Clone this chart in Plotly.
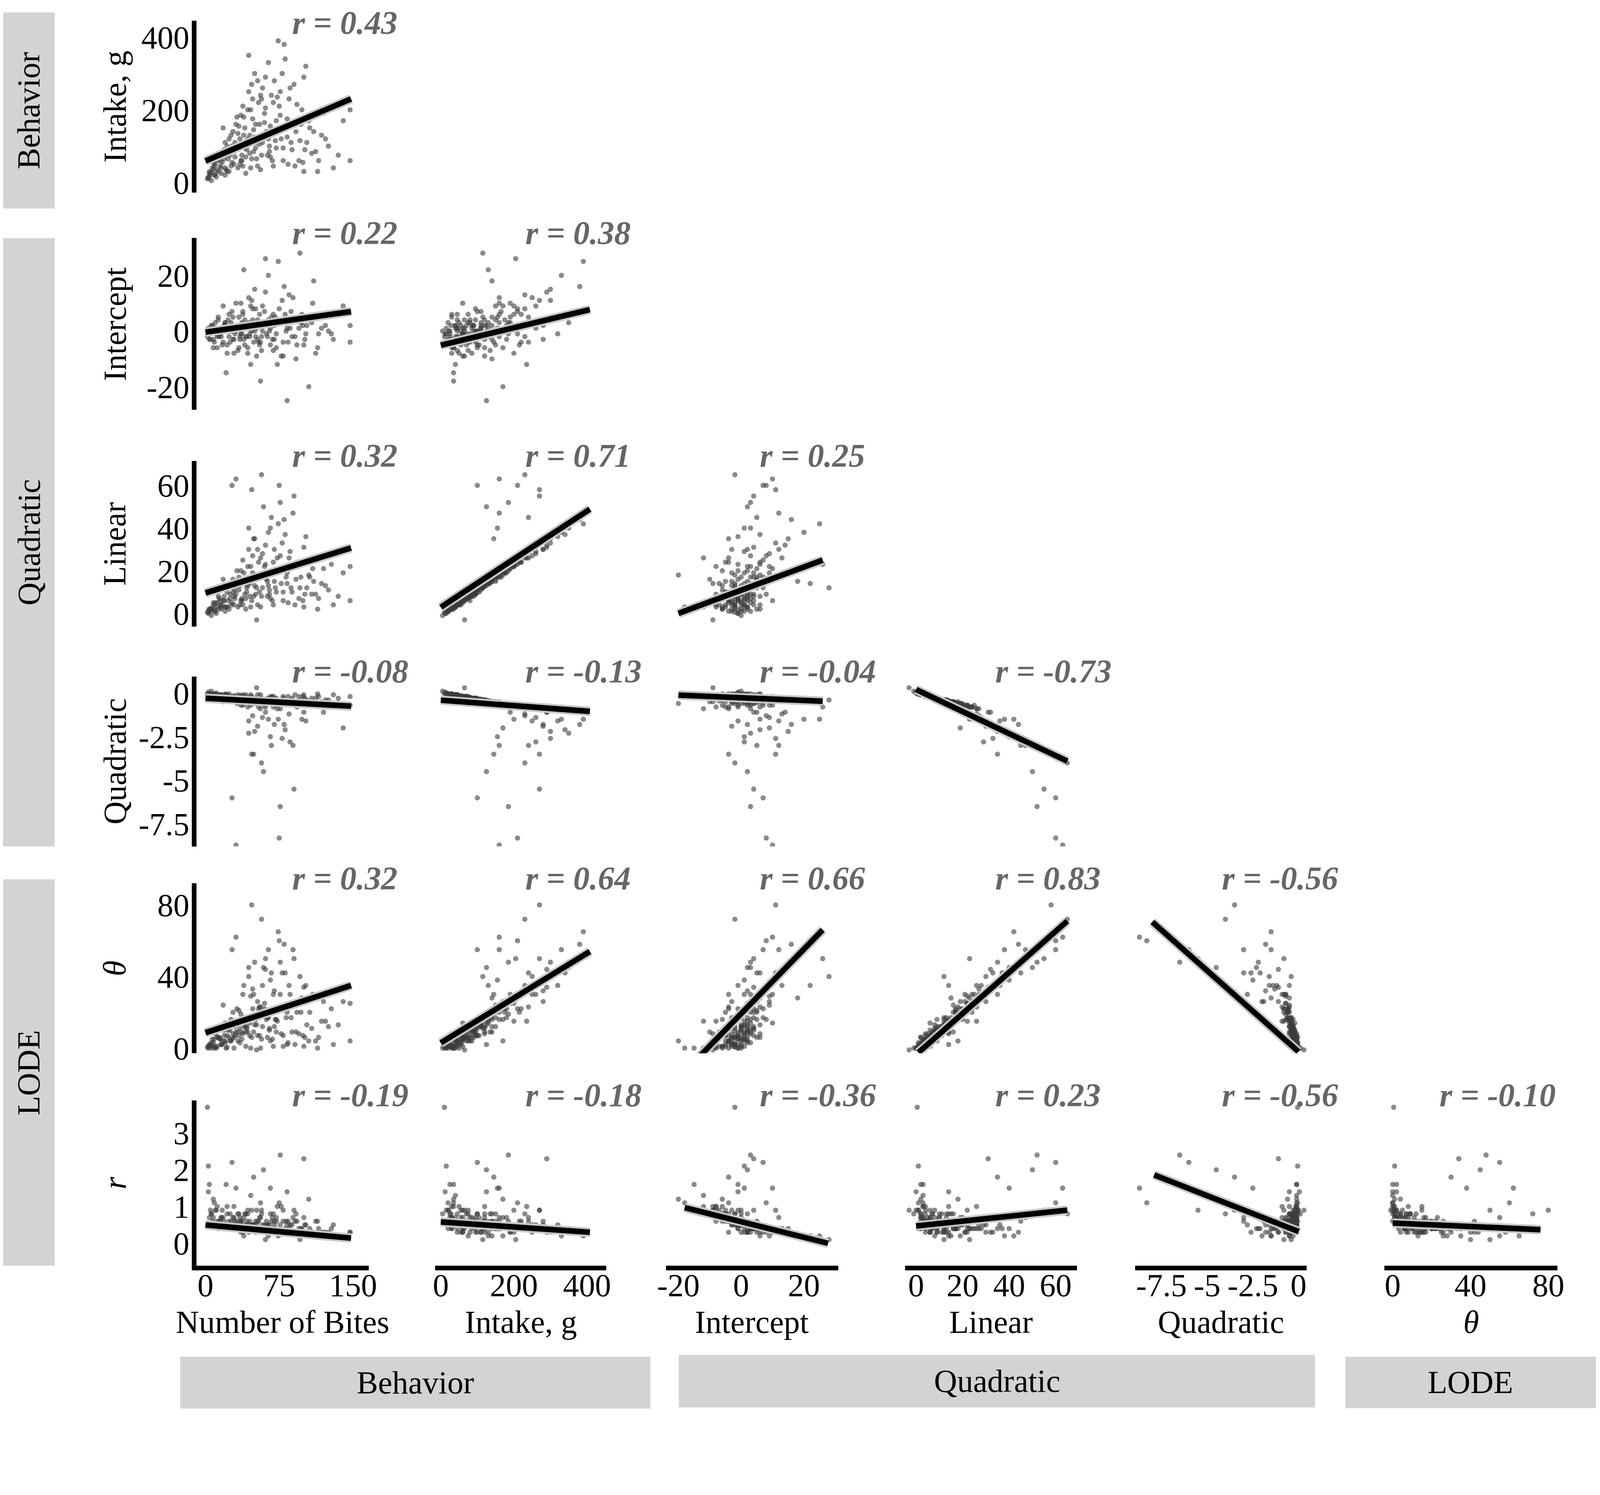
import plotly.graph_objects as go

# one row per subject
bites = [5, 8, 12, 15, 18, 20, 22, 25, 28, 30,
         32, 35, 36, 38, 40, 42, 44, 45, 46, 48,
         50, 52, 54, 55, 57, 58, 60, 62, 64, 65,
         67, 68, 70, 72, 74, 75, 77, 78, 80, 82,
         84, 85, 88, 90, 92, 95, 98, 100, 103, 105,
         108, 110, 115, 120, 125, 130, 140, 147, 147, 2,
         3, 4, 6, 7, 9, 10, 11, 13, 14, 16,
         17, 19, 21, 23, 24, 26, 27, 29, 31, 33,
         34, 37, 39, 41, 43, 47, 49, 51, 53, 56,
         59, 61, 63, 66, 69, 71, 73, 76, 79, 81,
         83, 86, 89, 93, 96, 99, 102, 106, 112, 118,
         135, 44, 36, 28, 18, 12, 57, 64, 47, 52,
         4, 9, 15, 20, 25, 30, 35, 40, 45, 50,
         55, 60, 65, 70, 20, 27, 33, 38, 42, 48,
         3, 6, 8, 10, 13, 16, 19, 22, 24, 26,
         29, 31, 34, 37, 39, 41, 43, 46, 49, 51,
         53, 56, 58, 61, 63, 66, 69, 72, 76, 79,
         83, 87, 91, 97, 101, 109, 114, 122, 128, 100]

intake = [20, 35, 60, 45, 80, 110, 30, 95, 140, 70,
          180, 120, 60, 210, 150, 90, 250, 130, 40, 175,
          300, 110, 220, 160, 75, 260, 190, 140, 330, 100,
          240, 60, 280, 170, 390, 210, 120, 300, 380, 150,
          50, 230, 90, 270, 140, 60, 200, 30, 110, 170,
          80, 140, 60, 190, 100, 40, 170, 200, 60, 10,
          15, 25, 5, 40, 20, 50, 15, 30, 70, 25,
          55, 90, 35, 65, 120, 45, 100, 85, 160, 40,
          100, 75, 130, 25, 200, 65, 145, 95, 280, 35,
          125, 205, 75, 155, 45, 115, 235, 185, 95, 340,
          125, 260, 160, 215, 115, 55, 320, 150, 85, 130,
          75, 350, 185, 95, 150, 35, 230, 120, 270, 65,
          30, 45, 60, 40, 75, 110, 50, 95, 80, 125,
          105, 165, 85, 140, 20, 55, 135, 45, 115, 230,
          12, 28, 55, 22, 80, 40, 65, 100, 30, 130,
          50, 90, 155, 60, 180, 70, 120, 200, 85, 160,
          45, 240, 110, 290, 140, 70, 220, 95, 250, 60,
          175, 110, 45, 160, 90, 190, 30, 120, 210, 290]

intercept = [-3, -6, -2, 1, -4, 3, -8, 0, 5, -1,
             2, -3, 10, 7, -5, 2, 12, -2, -12, 4,
             15, 1, -4, 6, -7, 9, 3, -1, 20, 0,
             5, -3, 2, -6, 25, 8, -9, 11, 16, 0,
             -4, 13, -2, 4, -10, 1, 6, -5, 2, -20,
             3, 18, -1, 5, 0, -3, 9, 2, -4, -2,
             1, -1, 0, 2, -4, 3, -1, 5, -2, 0,
             -5, 2, -15, 4, -2, 0, 7, -3, 10, 1,
             -6, 3, 22, -2, -8, 0, -4, 8, -3, -18,
             2, 26, -2, 1, -7, 5, -12, 3, -4, 6,
             -25, 1, 12, -5, 28, 2, -1, 4, -8, 1,
             6, 3, -1, -3, 9, -6, -2, 4, 11, -9,
             -3, 1, -1, 2, -4, 1, -2, 4, -1, 0,
             -5, 7, 2, -3, 3, 0, -7, 6, -2, 8,
             -1, 2, -3, 0, 4, -2, 1, -5, 6, 3,
             -8, 0, 5, -1, -3, 2, -6, 9, 1, -2,
             4, -4, 0, 14, 2, -5, 6, -1, 3, -9,
             1, 7, -2, 3, -3, 10, -6, 2, -1, 4]

linear = [1, 2, 5, 4, 6, 12, 3, 9, 16, 7,
          20, 13, 6, 25, 15, 10, 30, 14, 3, 19,
          35, 12, 24, 18, 8, 28, 22, 16, 38, 11,
          45, 6, 30, 20, 42, 60, 14, 33, 44, 17,
          5, 26, 10, 55, 16, 7, 23, 3, 12, 18,
          9, 15, 7, 21, 11, 4, 19, 22, 6, 0.5,
          1, 2, -1, 3, 1, 5, 0, 2, 7, 2,
          4, 8, 3, 6, 13, 4, 60, 8, 63, 3,
          11, 7, 14, 2, 22, 6, 35, 9, 30, 3,
          50, 23, 8, 40, 4, 12, 26, 52, 10, 37,
          14, 29, 47, 24, 12, 6, 36, 17, 9, 14,
          8, 40, 20, 10, 16, 3, 65, 13, 58, -3,
          2, 4, 6, 3, 7, 11, 4, 9, 8, 13,
          10, 17, 9, 15, 1, 5, 14, 4, 12, 27,
          0, 2, 5, 1, 8, 3, 6, 10, 2, 14,
          4, 9, 17, 6, 19, 7, 13, 22, 8, 18,
          4, 26, 12, 32, 15, 7, 24, 10, 27, 6,
          19, 12, 4, 17, 9, 21, 2, 13, 23, 31]

quadratic = [-0.05, -0.1, -0.2, -0.1, -0.3, -0.4, -0.1, -0.3, -0.5, -0.2,
             -0.6, -0.4, -0.2, -0.7, -0.5, -0.3, -1.6, -0.5, -0.1, -0.6,
             -2.2, -0.4, -0.8, -0.5, -0.3, -1.4, -0.7, -0.5, -1.5, -0.4,
             -3.0, -0.2, -1.8, -0.7, -1.5, -8.3, -0.5, -2.6, -1.8, -0.6,
             -0.2, -1.2, -0.3, -5.5, -0.5, -0.2, -1.5, -0.1, -0.4, -0.6,
             -0.3, -0.5, -0.2, -1.1, -0.4, -0.1, -2.0, -0.7, -0.2, -0.05,
             -0.05, -0.1, 0.1, -0.1, -0.05, -0.2, 0.0, -0.1, -0.3, -0.1,
             -0.2, -0.3, -0.1, -0.2, -0.4, -0.2, -6.0, -0.3, -8.7, -0.1,
             -0.4, -0.2, -0.5, -0.1, -0.8, -0.2, -3.5, -0.3, -1.9, -0.1,
             -4.5, -0.8, -0.3, -2.5, -0.2, -0.4, -0.9, -6.5, -0.3, -2.1,
             -0.5, -2.8, -3.0, -0.8, -0.4, -0.2, -1.6, -0.6, -0.3, -0.5,
             -0.3, -2.3, -0.7, -0.3, -0.5, -0.1, -4.0, -0.4, -3.5, 0.3,
             -0.1, -0.15, -0.2, -0.1, -0.25, -0.35, -0.15, -0.3, -0.25, -0.4,
             -0.35, -0.55, -0.3, -0.5, -0.05, -0.2, -0.45, -0.1, -0.4, -1.3,
             0.05, -0.05, -0.15, -0.05, -0.25, -0.1, -0.2, -0.3, -0.05, -0.45,
             -0.15, -0.3, -0.55, -0.2, -0.6, -0.2, -0.4, -0.7, -0.3, -0.6,
             -0.1, -0.9, -0.4, -1.1, -0.5, -0.2, -0.8, -0.3, -0.9, -0.2,
             -0.6, -0.4, -0.1, -0.6, -0.3, -0.7, -0.05, -0.4, -0.8, -1.1]

theta = [2, 1, 6, 5, 4, 14, 0.5, 10, 20, 7,
         22, 11, 14, 30, 12, 12, 40, 14, 0, 22,
         48, 13, 22, 23, 5, 35, 25, 16, 55, 11,
         42, 5, 32, 16, 65, 60, 8, 42, 58, 17,
         3, 35, 9, 50, 9, 8, 28, 1, 13, 4,
         11, 28, 6, 26, 12, 2, 26, 25, 4, 0.5,
         1, 2, 0, 5, 0, 8, 0, 6, 6, 2,
         2, 10, 0, 10, 12, 4, 55, 6, 62, 4,
         7, 9, 35, 1, 15, 6, 30, 16, 26, 0,
         45, 50, 6, 38, 1, 16, 15, 48, 7, 42,
         2, 30, 55, 20, 40, 7, 35, 20, 4, 15,
         13, 45, 19, 8, 24, 1, 72, 17, 80, -1,
         1, 5, 5, 4, 4, 12, 3, 12, 7, 13,
         7, 22, 10, 12, 3, 5, 9, 8, 11, 33,
         0, 3, 3, 1, 11, 2, 7, 7, 6, 16,
         0, 9, 21, 5, 17, 9, 9, 29, 9, 16,
         7, 23, 12, 44, 17, 4, 30, 9, 30, 1,
         20, 17, 2, 20, 6, 30, 0, 15, 22, 34]

r_vals = [0.9, 1.2, 0.6, 0.5, 0.7, 0.4, 1.0, 0.5, 0.4, 0.6,
          0.5, 0.7, 0.3, 0.4, 0.8, 0.5, 0.3, 0.6, 1.3, 0.5,
          0.4, 0.5, 0.6, 0.4, 0.9, 0.4, 0.5, 0.6, 0.2, 0.5,
          0.6, 0.7, 0.5, 0.7, 0.2, 1.1, 1.0, 0.3, 0.3, 0.6,
          0.6, 0.4, 0.5, 0.9, 0.8, 0.4, 0.4, 0.7, 0.3, 1.2,
          0.3, 0.2, 0.4, 0.3, 0.3, 0.5, 0.2, 0.3, 0.3, 3.7,
          2.1, 1.6, 0.8, 0.6, 1.1, 0.5, 0.9, 0.4, 0.6, 0.7,
          0.9, 0.5, 1.6, 0.4, 0.6, 0.6, 2.2, 0.7, 1.5, 0.5,
          0.8, 0.5, 0.2, 0.8, 0.9, 0.5, 1.8, 0.3, 0.6, 1.1,
          2.0, 0.1, 0.5, 1.5, 0.8, 0.4, 1.0, 2.4, 0.6, 0.4,
          1.4, 0.5, 0.7, 0.6, 0.1, 0.3, 0.5, 0.4, 0.6, 0.3,
          0.2, 0.4, 0.6, 0.7, 0.4, 1.0, 0.8, 0.4, 0.9, 0.9,
          0.7, 0.5, 0.6, 0.5, 0.8, 0.5, 0.6, 0.4, 0.5, 0.5,
          0.7, 0.4, 0.4, 0.6, 0.4, 0.5, 0.8, 0.3, 0.6, 0.4,
          1.4, 0.8, 0.7, 0.9, 0.5, 0.7, 0.6, 0.8, 0.4, 0.5,
          1.0, 0.6, 0.4, 0.6, 0.7, 0.5, 0.8, 0.4, 0.5, 0.6,
          0.4, 0.7, 0.5, 0.3, 0.5, 0.8, 0.4, 0.6, 0.5, 0.9,
          0.5, 0.3, 0.6, 0.4, 0.5, 0.3, 0.6, 0.3, 0.4, 2.3]

variables = [bites, intake, intercept, linear, quadratic, theta, r_vals]

x_titles = ["Number of Bites", "Intake, g", "Intercept", "Linear", "Quadratic", "<i>θ</i>"]
y_titles = ["Intake, g", "Intercept", "Linear", "Quadratic", "<i>θ</i>", "<i>r</i>"]

col_ticks = [[0, 75, 150], [0, 200, 400], [-20, 0, 20], [0, 20, 40, 60], [-7.5, -5, -2.5, 0], [0, 40, 80]]
row_ticks = [[0, 200, 400], [-20, 0, 20], [0, 20, 40, 60], [-7.5, -5, -2.5, 0], [0, 40, 80], [0, 1, 2, 3]]

# correlation printed in each panel (row by row, lower triangle)
r_labels = [[0.43],
            [0.22, 0.38],
            [0.32, 0.71, 0.25],
            [-0.08, -0.13, -0.04, -0.73],
            [0.32, 0.64, 0.66, 0.83, -0.56],
            [-0.19, -0.18, -0.36, 0.23, -0.56, -0.10]]

# fitted lines: x start, y start, x end, y end
fit_lines = [[(0, 59, 148, 230)],
             [(0, -0.4, 148, 7), (0, -5.1, 408, 7.7)],
             [(0, 9.6, 148, 30.7), (0, 2.9, 408, 48.9), (-20, 0, 26, 25)],
             [(0, -0.3, 148, -0.75), (0, -0.41, 408, -1.05), (-20, -0.12, 26, -0.47), (0, 0.2, 65, -3.9)],
             [(0, 8.6, 148, 35), (0, 2.9, 408, 54), (-22, -20.4, 26, 66.1), (1, -2.5, 65, 71), (-8, 70.5, 0, -2)],
             [(0, 0.5, 148, 0.14), (0, 0.58, 408, 0.3), (-18, 0.97, 27.7, 0), (0, 0.47, 65, 0.9),
              (-7.9, 1.86, 0, 0.32), (0, 0.55, 76, 0.37)]]

strip_left = ["Behavior", "Quadratic", "LODE"]
strip_bottom = ["Behavior", "Quadratic", "LODE"]

# layout in pixels of the reference picture
W, H = 4328, 3827
col_px = [(533, 999), (1179, 1642), (1803, 2270), (2450, 2916), (3073, 3537), (3748, 4216)]
row_px = [(63, 527), (650, 1114), (1252, 1700), (1835, 2294), (2394, 2853), (2980, 3427)]
col_ranges = [[-9, 166], [-15, 453], [-24, 31], [-4.8, 69.2], [-8.94, 0.44], [-4.2, 84.7]]
row_ranges = [[-28, 445], [-28.3, 33.4], [-6.2, 71.5], [-8.78, 0.94], [-2.9, 92], [-0.61, 3.89]]
label_left = [790, 1421, 2055, 2693, 3306, 3895]
left_strip_px = [(40, 570), (650, 2294), (2383, 3427)]
bottom_strip_px = [(489, 1761, 3673, 3813), (1838, 3560, 3668, 3810), (3642, 4320, 3673, 3812)]

# the page comes out slightly enlarged and shifted in the photo; compensate
SX, OX = 0.9554, -31.2
SY, OY = 0.956, -16.4
K = 0.956

FONT = "Liberation Serif"
FS = round(86 * K)


def px(x):
    return (SX * x + OX) / W


def py(y):
    return 1 - (SY * y + OY) / H


fig = go.Figure()
layout = {}
annotations = []
shapes = []

k = 0
for i in range(6):
    for j in range(i + 1):
        k += 1
        xa = "x" if k == 1 else f"x{k}"
        ya = "y" if k == 1 else f"y{k}"
        fig.add_trace(go.Scatter(x=variables[j], y=variables[i + 1], mode="markers", xaxis=xa, yaxis=ya,
                                 marker=dict(size=14 * K, color="rgba(60,60,60,0.6)"),
                                 showlegend=False, hoverinfo="skip"))
        x0, y0, x1, y1 = fit_lines[i][j]
        fig.add_trace(go.Scatter(x=[x0, x1], y=[y0, y1], mode="lines", xaxis=xa, yaxis=ya,
                                 line=dict(color="#c8c8c8", width=25 * K),
                                 showlegend=False, hoverinfo="skip"))
        fig.add_trace(go.Scatter(x=[x0, x1], y=[y0, y1], mode="lines", xaxis=xa, yaxis=ya,
                                 line=dict(color="black", width=15 * K),
                                 showlegend=False, hoverinfo="skip"))

        bottom = (i == 5)
        left = (j == 0)
        layout["xaxis" if k == 1 else f"xaxis{k}"] = dict(
            domain=[px(col_px[j][0]), px(col_px[j][1])], range=col_ranges[j], anchor=ya,
            showgrid=False, zeroline=False, showline=bottom, linecolor="black", linewidth=13 * K,
            ticks="", showticklabels=bottom, tickvals=col_ticks[j],
            ticktext=[f"{v:g}" for v in col_ticks[j]], tickangle=0,
            tickfont=dict(family=FONT, size=FS, color="black"), ticklabelstandoff=-33)
        layout["yaxis" if k == 1 else f"yaxis{k}"] = dict(
            domain=[py(row_px[i][1]), py(row_px[i][0])], range=row_ranges[i], anchor=xa,
            showgrid=False, zeroline=False, showline=left, linecolor="black", linewidth=13 * K,
            ticks="", showticklabels=left, tickvals=row_ticks[i],
            ticktext=[f"{v:g}" for v in row_ticks[i]],
            tickfont=dict(family=FONT, size=FS, color="black"), ticklabelstandoff=-10)

        label_y = max(row_px[i][0] - 14, 68)
        annotations.append(dict(x=px(label_left[j]), y=py(label_y), xref="paper", yref="paper",
                                xanchor="left", yanchor="middle", showarrow=False,
                                text=f"<b><i>r = {r_labels[i][j]:.2f}</i></b>",
                                font=dict(family=FONT, size=round(88 * K), color="#666666")))

# axis titles
for j, t in enumerate(x_titles):
    annotations.append(dict(x=px((col_px[j][0] + col_px[j][1]) / 2), y=py(3580), xref="paper", yref="paper",
                            xanchor="center", yanchor="middle", showarrow=False, text=t,
                            font=dict(family=FONT, size=FS, color="black")))
for i, t in enumerate(y_titles):
    annotations.append(dict(x=px(312), y=py((row_px[i][0] + row_px[i][1]) / 2), xref="paper", yref="paper",
                            xanchor="center", yanchor="middle", showarrow=False, text=t, textangle=-90,
                            font=dict(family=FONT, size=FS, color="black")))

# group strips
for (t0, t1), name in zip(left_strip_px, strip_left):
    shapes.append(dict(type="rect", xref="paper", yref="paper", x0=px(9), x1=px(149), y0=py(t1), y1=py(t0),
                       fillcolor="#d3d3d3", line=dict(width=0), layer="below"))
    annotations.append(dict(x=px(79), y=py((t0 + t1) / 2), xref="paper", yref="paper", showarrow=False,
                            xanchor="center", yanchor="middle", text=name, textangle=-90,
                            font=dict(family=FONT, size=FS, color="black")))
for (a0, a1, b0, b1), name in zip(bottom_strip_px, strip_bottom):
    shapes.append(dict(type="rect", xref="paper", yref="paper", x0=px(a0), x1=px(a1), y0=py(b1), y1=py(b0),
                       fillcolor="#d3d3d3", line=dict(width=0), layer="below"))
    annotations.append(dict(x=px((a0 + a1) / 2), y=py((b0 + b1) / 2), xref="paper", yref="paper",
                            showarrow=False, xanchor="center", yanchor="middle", text=name,
                            font=dict(family=FONT, size=FS, color="black")))

fig.update_layout(width=W, height=H, margin=dict(l=0, r=0, t=0, b=0),
                  plot_bgcolor="white", paper_bgcolor="white",
                  annotations=annotations, shapes=shapes, **layout)

fig.write_html("out.html")
